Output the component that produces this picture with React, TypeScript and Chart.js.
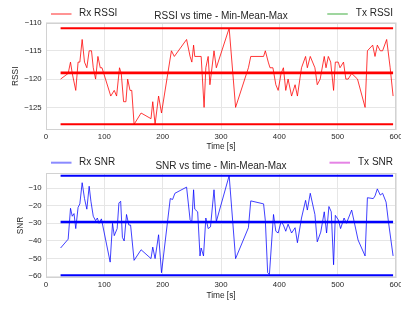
import React, { useEffect, useRef } from "react";
import { Chart, registerables } from "chart.js";

Chart.register(...registerables);

const FONT = '"Liberation Sans", Arial, sans-serif';
const TEXT = "#262626";
const GRID = "#e6e6e6";
const FRAME = "#d2d2d2";

const timeTicks = [0, 100, 200, 300, 400, 500, 600];
const rssiTicks = [-125, -120, -115, -110];
const snrTicks = [-60, -50, -40, -30, -20, -10];

const rssiTime = [25, 38, 42, 45, 51, 55, 58, 62, 66, 70, 74, 78, 81, 85, 89, 93, 96, 111, 117, 121, 126, 129, 133, 137, 140, 144, 147, 151, 163, 180, 183, 187, 193, 198, 215, 220, 241, 247, 250, 253, 255, 266, 271, 274, 278, 281, 288, 292, 314, 325, 347, 351, 373, 376, 381, 384, 389, 394, 398, 403, 407, 411, 415, 421, 427, 431, 438, 445, 448, 453, 461, 465, 470, 477, 480, 484, 488, 493, 496, 501, 504, 510, 514, 518, 524, 534, 547, 551, 560, 564, 568, 573, 577, 584, 590, 595];
const rssiValues = [-120, -119, -117, -119, -122, -117, -117, -113, -117, -118, -115, -115, -118, -120, -116, -118, -118, -123, -122, -123, -118, -119, -124, -124, -120, -122, -122, -128, -126, -127, -124, -128, -123, -126, -115, -116, -113, -116, -117, -114, -116, -116, -125, -118, -116, -121, -115, -118, -111, -125, -118, -116, -116, -115, -117, -118, -118, -121, -122, -119, -118, -122, -120, -123, -121, -123, -118, -116, -118, -116, -118, -121, -120, -116, -118, -116, -117, -122, -117, -117, -118, -117, -120, -120, -119, -120, -125, -115, -114, -116, -114, -115, -115, -113, -118, -123];

const snrTime = [25, 38, 42, 45, 48, 51, 55, 58, 62, 66, 70, 74, 77, 81, 85, 88, 91, 95, 110, 114, 117, 122, 125, 128, 131, 134, 138, 142, 145, 151, 163, 180, 183, 187, 193, 198, 213, 217, 221, 241, 247, 250, 253, 255, 260, 264, 266, 270, 274, 278, 282, 288, 292, 314, 325, 347, 351, 373, 376, 380, 383, 390, 394, 398, 403, 407, 411, 415, 421, 427, 431, 438, 445, 448, 453, 461, 465, 471, 477, 481, 485, 489, 493, 496, 501, 505, 511, 515, 524, 535, 547, 551, 561, 564, 568, 573, 577, 583, 587, 595];
const snrValues = [-44, -39, -21.5, -26, -24.5, -33, -21, -19, -7, -16, -22, -9, -17.5, -26, -28.5, -27, -30, -27.5, -52, -30, -37, -33, -18.5, -17.5, -38, -40, -25, -31, -31, -51, -45, -50, -43.5, -50, -36.5, -58, -16, -16.5, -13, -9.5, -28, -29, -11, -22, -23.5, -48.5, -44, -48.5, -27, -33, -32, -11, -29, -3, -50, -32.5, -17.3, -19, -28.5, -58, -59, -25, -34.5, -35.5, -29, -31, -34.5, -30.5, -35.5, -32.5, -41, -27, -17, -22.5, -13, -25, -40.5, -35, -23.5, -35.5, -20.5, -23.5, -53.5, -25.5, -28, -33, -27, -30, -22.5, -39.5, -48.5, -15.5, -16, -14.5, -10.5, -14, -13, -18, -29, -48.5];

const rssiStats = { min: -128, mean: -118.9, max: -111 };
const snrStats = { min: -59.5, mean: -29.3, max: -3 };

type PanelSpec = {
  title: string;
  rxLabel: string;
  txLabel: string;
  yLabel: string;
  times: number[];
  values: number[];
  stats: { min: number; mean: number; max: number };
  yTicks: number[];
  yMin: number;
  yMax: number;
  lineColor: string;
  statColor: string;
  rxLegendColor: string;
  txLegendColor: string;
  height: number;
  padTop: number;
  xHeight: number;
  xTitlePad: number;
  yTitlePad: number;
  legendY: number;
  titleY: number;
};

const panels: PanelSpec[] = [
  {
    title: "RSSI vs time - Min-Mean-Max",
    rxLabel: "Rx RSSI",
    txLabel: "Tx RSSI",
    yLabel: "RSSI",
    times: rssiTime,
    values: rssiValues,
    stats: rssiStats,
    yTicks: rssiTicks,
    yMin: -129,
    yMax: -110,
    lineColor: "rgba(255,0,0,0.78)",
    statColor: "#ff0000",
    rxLegendColor: "rgba(255,60,60,0.55)",
    txLegendColor: "rgba(80,180,80,0.55)",
    height: 154,
    padTop: 22.5,
    xHeight: 24,
    xTitlePad: 2.6,
    yTitlePad: 10.5,
    legendY: 14,
    titleY: 19.3,
  },
  {
    title: "SNR vs time - Min-Mean-Max",
    rxLabel: "Rx SNR",
    txLabel: "Tx SNR",
    yLabel: "SNR",
    times: snrTime,
    values: snrValues,
    stats: snrStats,
    yTicks: snrTicks,
    yMin: -61,
    yMax: -1.5,
    lineColor: "rgba(0,0,255,0.75)",
    statColor: "#0000ff",
    rxLegendColor: "rgba(60,60,255,0.6)",
    txLegendColor: "rgba(220,90,220,0.75)",
    height: 155,
    padTop: 19,
    xHeight: 31,
    xTitlePad: 8.4,
    yTitlePad: 15.5,
    legendY: 8.7,
    titleY: 15.3,
  },
];

function makeConfig(p: PanelSpec): any {
  const first = p.times[0];
  const last = p.times[p.times.length - 1];
  const seg = (v: number) => [
    { x: first, y: v },
    { x: last, y: v },
  ];
  const decor = {
    id: "decor",
    afterDraw(chart: any) {
      const { ctx, chartArea } = chart;
      ctx.save();
      ctx.strokeStyle = FRAME;
      ctx.lineWidth = 1;
      const l = Math.round(chartArea.left) + 0.5;
      const t = Math.round(chartArea.top) + 0.5;
      const r = Math.round(chartArea.right) - 0.5;
      const b = Math.round(chartArea.bottom) - 0.5;
      ctx.strokeRect(l, t, r - l, b - t);
      ctx.font = `10px ${FONT}`;
      ctx.fillStyle = TEXT;
      ctx.textBaseline = "alphabetic";
      ctx.textAlign = "center";
      ctx.fillText(p.title, (chartArea.left + chartArea.right) / 2, p.titleY);
      ctx.textAlign = "left";
      ctx.textBaseline = "middle";
      ctx.lineWidth = 2;
      ctx.strokeStyle = p.rxLegendColor;
      ctx.beginPath();
      ctx.moveTo(51, p.legendY);
      ctx.lineTo(71.5, p.legendY);
      ctx.stroke();
      ctx.fillText(p.rxLabel, 79, p.legendY - 0.5);
      const tw = ctx.measureText(p.txLabel).width;
      const tx = 393 - tw;
      ctx.strokeStyle = p.txLegendColor;
      ctx.beginPath();
      ctx.moveTo(tx - 28.5, p.legendY);
      ctx.lineTo(tx - 8, p.legendY);
      ctx.stroke();
      ctx.fillText(p.txLabel, tx, p.legendY - 0.5);
      ctx.restore();
    },
  };
  return {
    type: "line",
    data: {
      datasets: [
        { data: seg(p.stats.max), borderColor: p.statColor, borderWidth: 2, pointRadius: 0, order: 0 },
        { data: seg(p.stats.mean), borderColor: p.statColor, borderWidth: 2.6, pointRadius: 0, order: 0 },
        { data: seg(p.stats.min), borderColor: p.statColor, borderWidth: 2, pointRadius: 0, order: 0 },
        {
          data: p.times.map((x, i) => ({ x, y: p.values[i] })),
          borderColor: p.lineColor,
          borderWidth: 1,
          pointRadius: 0,
          order: 1,
        },
      ],
    },
    options: {
      responsive: false,
      animation: false,
      devicePixelRatio: 1,
      layout: { padding: { top: p.padTop, right: 5, left: 0, bottom: 0 } },
      plugins: {
        legend: { display: false },
        title: { display: false },
        tooltip: { enabled: false },
      },
      scales: {
        x: {
          type: "linear",
          min: 0,
          max: 600,
          afterBuildTicks: (s: any) => {
            s.ticks = timeTicks.map((v) => ({ value: v }));
          },
          afterFit: (s: any) => {
            s.height = p.xHeight;
            s.paddingLeft = 0;
            s.paddingRight = 0;
          },
          ticks: { font: { family: FONT, size: 7.8 }, color: TEXT, padding: 1.8, maxRotation: 0, autoSkip: false },
          grid: { color: GRID, drawTicks: false, lineWidth: 1 },
          border: { display: false },
          title: {
            display: true,
            text: "Time [s]",
            color: TEXT,
            font: { family: FONT, size: 8.3 },
            padding: { top: 0, bottom: p.xTitlePad },
          },
        },
        y: {
          type: "linear",
          min: p.yMin,
          max: p.yMax,
          afterBuildTicks: (s: any) => {
            s.ticks = p.yTicks.map((v) => ({ value: v }));
          },
          afterFit: (s: any) => {
            s.width = 46;
            s.paddingTop = 0;
            s.paddingBottom = 0;
          },
          ticks: {
            font: { family: FONT, size: 7.8 },
            color: TEXT,
            padding: 4.3,
            autoSkip: false,
            callback: (v: number) => String(v).replace("-", "\u2212"),
          },
          grid: { color: GRID, drawTicks: false, lineWidth: 1 },
          border: { display: false },
          title: {
            display: true,
            text: p.yLabel,
            color: TEXT,
            font: { family: FONT, size: 8.3 },
            padding: { top: p.yTitlePad, bottom: 0 },
          },
        },
      },
    },
    plugins: [decor],
  };
}

function Panel({ spec, top }: { spec: PanelSpec; top: number }) {
  const ref = useRef<HTMLCanvasElement>(null);
  useEffect(() => {
    const chart = new Chart(ref.current as HTMLCanvasElement, makeConfig(spec));
    return () => chart.destroy();
  }, [spec]);
  return (
    <canvas
      ref={ref}
      width={401}
      height={spec.height}
      style={{ position: "absolute", left: 0, top, width: 401, height: spec.height, display: "block" }}
    />
  );
}

export default function App() {
  return (
    <div style={{ position: "absolute", left: 0, top: 0, width: 401, height: 309, background: "#ffffff", overflow: "hidden" }}>
      <Panel spec={panels[0]} top={0} />
      <Panel spec={panels[1]} top={154} />
    </div>
  );
}
